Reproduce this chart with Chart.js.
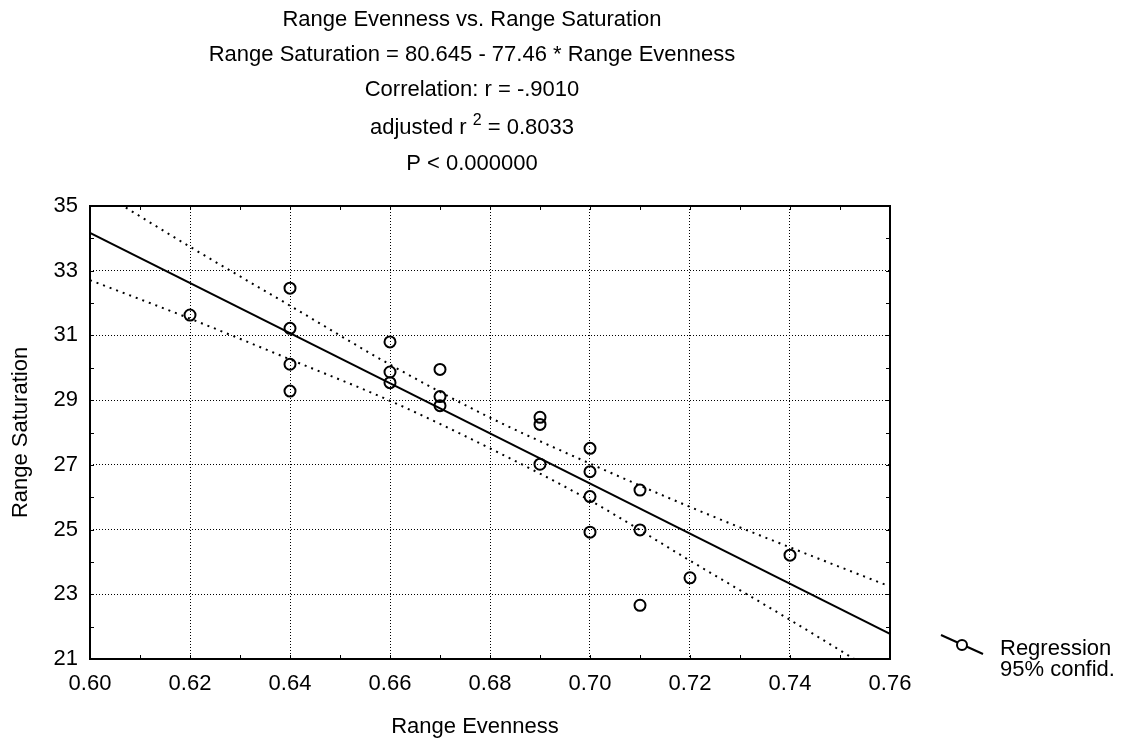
<!DOCTYPE html>
<html>
<head>
<meta charset="utf-8">
<title>Range Evenness vs. Range Saturation</title>
<script src="https://cdn.jsdelivr.net/npm/chart.js@4.4.1/dist/chart.umd.min.js"></script>
<style>
  html, body { margin: 0; padding: 0; background: #fff; }
  #wrap { width: 1124px; height: 738px; }
</style>
</head>
<body>
<div id="wrap"><canvas id="chart" width="1124" height="738"></canvas></div>
<script>
// observed points
const evenness = [0.62, 0.64, 0.64, 0.64, 0.64, 0.66, 0.66, 0.66, 0.67, 0.67, 0.67,
  0.69, 0.69, 0.69, 0.70, 0.70, 0.70, 0.70, 0.71, 0.71, 0.71, 0.72, 0.74];
const saturation = [31.63, 32.46, 31.22, 30.11, 29.28, 30.80, 29.87, 29.54, 29.95, 29.11, 28.83,
  28.47, 28.25, 27.02, 27.51, 26.79, 26.02, 24.92, 26.22, 24.99, 22.66, 23.51, 24.21];

// regression line end points
const fitX = [0.60, 0.76];
const fitY = [34.17, 21.78];

// 95% confidence band, read at the x grid lines
const bandX = [0.60, 0.62, 0.64, 0.66, 0.68, 0.70, 0.72, 0.74, 0.76];
const bandUpper = [35.63, 33.74, 31.92, 30.10, 28.46, 27.04, 25.70, 24.45, 23.24];
const bandLower = [32.71, 31.52, 30.26, 28.98, 27.51, 25.90, 24.04, 22.21, 20.32];

const xTicksMinor = [0.61, 0.63, 0.65, 0.67, 0.69, 0.71, 0.73, 0.75];
const yTicksMinor = [22, 24, 26, 28, 30, 32, 34];

const titleLines = [
  "Range Evenness vs. Range Saturation",
  "Range Saturation = 80.645 - 77.46 * Range Evenness",
  "Correlation: r = -.9010",
  null, // adjusted r^2 line, drawn with superscript
  "P < 0.000000"
];

const FONT = '"Liberation Sans", Arial, sans-serif';

function pairs(xs, ys) {
  return xs.map((x, i) => ({ x: x, y: ys[i] }));
}

const decorations = {
  id: "decorations",
  afterDatasetsDraw(chart) {
    const ctx = chart.ctx;
    const area = chart.chartArea;
    const sx = chart.scales.x;
    const sy = chart.scales.y;
    ctx.save();

    // inward tick marks on all four sides
    ctx.strokeStyle = "#000";
    ctx.lineWidth = 1;
    ctx.beginPath();
    const xt = sx.ticks.map(t => t.value).concat(xTicksMinor);
    xt.forEach(v => {
      const px = Math.round(sx.getPixelForValue(v)) + 0.5;
      ctx.moveTo(px, area.bottom); ctx.lineTo(px, area.bottom - 4);
      ctx.moveTo(px, area.top); ctx.lineTo(px, area.top + 4);
    });
    const yt = sy.ticks.map(t => t.value).concat(yTicksMinor);
    yt.forEach(v => {
      const py = Math.round(sy.getPixelForValue(v)) + 0.5;
      ctx.moveTo(area.left, py); ctx.lineTo(area.left + 4, py);
      ctx.moveTo(area.right, py); ctx.lineTo(area.right - 4, py);
    });
    ctx.stroke();

    // frame
    ctx.lineWidth = 2;
    ctx.strokeRect(area.left, area.top, area.right - area.left, area.bottom - area.top);

    // titles
    ctx.fillStyle = "#000";
    ctx.font = "22px " + FONT;
    ctx.textAlign = "center";
    ctx.textBaseline = "alphabetic";
    const cx = 472;
    const baselines = [26, 61, 96, 134, 170];
    titleLines.forEach((line, i) => {
      if (line) ctx.fillText(line, cx, baselines[i]);
    });
    // adjusted r^2 with superscript
    const a = "adjusted r ";
    const b = " = 0.8033";
    ctx.font = "22px " + FONT;
    const wa = ctx.measureText(a).width;
    const wb = ctx.measureText(b).width;
    ctx.font = "16px " + FONT;
    const ws = ctx.measureText("2").width;
    let left = cx - (wa + ws + wb) / 2;
    ctx.textAlign = "left";
    ctx.font = "22px " + FONT;
    ctx.fillText(a, left, baselines[3]);
    ctx.font = "16px " + FONT;
    ctx.fillText("2", left + wa, baselines[3] - 9);
    ctx.font = "22px " + FONT;
    ctx.fillText(b, left + wa + ws, baselines[3]);

    // axis titles
    ctx.textAlign = "center";
    ctx.fillText("Range Evenness", 475, 733);
    ctx.save();
    ctx.translate(27, (area.top + area.bottom) / 2);
    ctx.rotate(-Math.PI / 2);
    ctx.fillText("Range Saturation", 0, 0);
    ctx.restore();

    // legend
    ctx.lineWidth = 2;
    ctx.beginPath();
    ctx.moveTo(941, 635);
    ctx.lineTo(983, 654);
    ctx.stroke();
    ctx.fillStyle = "#fff";
    ctx.beginPath();
    ctx.arc(962, 645, 5, 0, Math.PI * 2);
    ctx.fill();
    ctx.stroke();
    ctx.fillStyle = "#000";
    ctx.textAlign = "left";
    ctx.fillText("Regression", 1000, 655);
    ctx.fillText("95% confid.", 1000, 676);

    ctx.restore();
  }
};

const ctx = document.getElementById("chart").getContext("2d");
new Chart(ctx, {
  type: "scatter",
  data: {
    datasets: [
      {
        label: "Regression",
        data: pairs(fitX, fitY),
        showLine: true,
        borderColor: "#000",
        borderWidth: 2,
        pointRadius: 0,
        order: 2,
      },
      {
        label: "95% confid. upper",
        data: pairs(bandX, bandUpper),
        showLine: true,
        borderColor: "#000",
        borderWidth: 2,
        borderDash: [2, 5],
        cubicInterpolationMode: "monotone",
        pointRadius: 0,
        order: 3,
      },
      {
        label: "95% confid. lower",
        data: pairs(bandX, bandLower),
        showLine: true,
        borderColor: "#000",
        borderWidth: 2,
        borderDash: [2, 5],
        cubicInterpolationMode: "monotone",
        pointRadius: 0,
        order: 3,
      },
      {
        label: "Range Saturation",
        data: pairs(evenness, saturation),
        pointStyle: "circle",
        pointRadius: 5.5,
        pointBorderWidth: 2,
        pointBorderColor: "#000",
        pointBackgroundColor: "rgba(255,255,255,0)",
        order: 1,
      },
    ],
  },
  options: {
    responsive: false,
    animation: false,
    layout: { padding: { top: 206, right: 234, left: 0, bottom: 0 } },
    plugins: {
      legend: { display: false },
      tooltip: { enabled: false },
      title: { display: false },
    },
    scales: {
      x: {
        type: "linear",
        min: 0.60,
        max: 0.76,
        afterFit: (scale) => { scale.height = 79; },
        ticks: {
          stepSize: 0.02,
          padding: 12,
          color: "#000",
          font: { family: FONT, size: 22 },
          callback: (v) => v.toFixed(2),
        },
        grid: { color: "#000", lineWidth: 1, drawTicks: false },
        border: { display: false, dash: [1, 2] },
      },
      y: {
        type: "linear",
        min: 21,
        max: 35,
        afterFit: (scale) => { scale.width = 90; },
        ticks: {
          stepSize: 2,
          padding: 12,
          color: "#000",
          font: { family: FONT, size: 22 },
        },
        grid: { color: "#000", lineWidth: 1, drawTicks: false },
        border: { display: false, dash: [1, 2] },
      },
    },
  },
  plugins: [decorations],
});
</script>
</body>
</html>
